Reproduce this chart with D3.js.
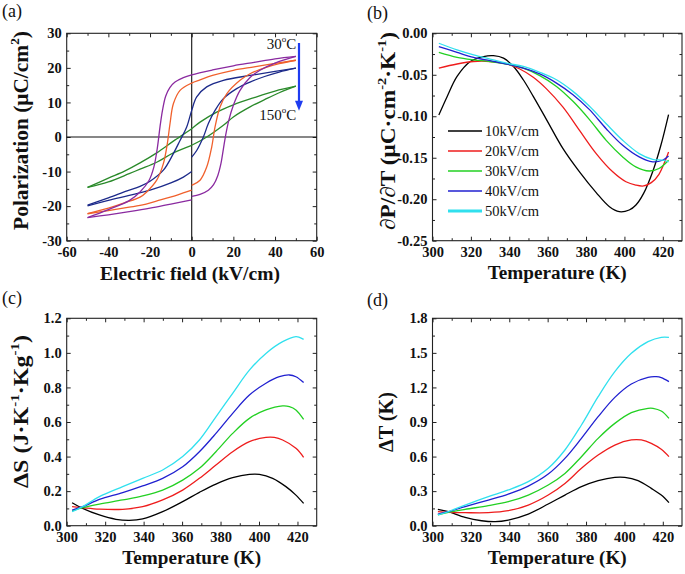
<!DOCTYPE html>
<html><head><meta charset="utf-8">
<script src="https://cdn.jsdelivr.net/npm/d3@7"></script>
<style>body{margin:0;background:#fff} svg{display:block} svg text{font-family:"Liberation Serif","DejaVu Serif",serif;}</style>
</head><body>
<svg id="c" width="685" height="574"></svg>
<script>
// ---------------- DATA ----------------
// (a) hysteresis loops, [E (kV/cm), P (uC/cm2)] ; rise from 0 -> 50, descend 50 -> -50, return -50 -> 0
const loop30_rise = [[0,-17.2],[4,-16.6],[8,-15.4],[10.5,-13.8],[12.5,-11.2],[14,-7.8],[15.2,-3.5],[16.3,0.5],[17.8,4.8],[20,9.2],[23.2,13.5],[28,17.2],[33,19.4],[40,21.4],[50,23.3]];
const loop30_desc = [[50,23.3],[40,22.6],[30,21.6],[20,20.6],[10,19.4],[0,18],[-4,17.2],[-8,15.9],[-10.5,14.3],[-12.5,11.8],[-14,7.8],[-15.2,3],[-16.5,-3.2],[-18.2,-8.8],[-20.5,-12.6],[-24.8,-15.9],[-30,-18.4],[-40,-21],[-50,-23.3]];
const loop30_ret  = [[-50,-23.3],[-40,-22.5],[-30,-21.6],[-20,-20.6],[-10,-19.4],[0,-18.2]];

const loop70_rise = [[0,-14],[4,-12.5],[7.2,-8.7],[9.6,-2.9],[11.2,2.9],[13.6,8.7],[16.8,12.5],[23.2,16.4],[28,18.3],[35,20],[42,21.2],[50,22.2]];
const loop70_desc = [[50,22.2],[40,21.3],[30,20.3],[20,19.3],[10,17.8],[4,16.5],[0,15.6],[-5.6,13.5],[-8.8,9.6],[-10.4,3.9],[-11.7,-1.9],[-13.6,-7.7],[-16.8,-12.5],[-21.6,-15.9],[-24.8,-17.4],[-32,-19],[-40,-20.6],[-50,-22.2]];
const loop70_ret  = [[-50,-22.2],[-40,-21.3],[-30,-20.3],[-24.8,-19.8],[-15,-18.2],[-7,-16.8],[0,-15.4]];

const loop110_rise = [[0,-5.8],[2.4,-3.9],[5.6,0],[8,3.9],[11.2,7.7],[15.2,11.1],[21.6,14],[28,15.9],[35,17.5],[42,18.8],[50,19.9]];
const loop110_desc = [[50,19.9],[40,19],[28,17.8],[15.2,16.4],[7.2,14.5],[2.4,11.6],[0,7.7],[-2.4,2.9],[-5.6,-1],[-8.8,-4.8],[-13.6,-9.6],[-20,-12.8],[-24.8,-14.3],[-31,-15.6],[-40,-17.6],[-50,-19.7]];
const loop110_ret  = [[-50,-19.9],[-40,-18.3],[-30,-16.9],[-20,-15.4],[-10,-13.3],[-4,-11.6],[0,-10]];

const loop150_rise = [[0,-2.4],[7.2,0],[15.2,3.4],[20,5.8],[28,8.7],[35,10.8],[42,12.8],[50,14.7]];
const loop150_desc = [[50,14.7],[40,13.3],[30,11.4],[20,9.3],[12,7.2],[4,4.3],[0,2.4],[-8.8,-1.2],[-16.8,-4.6],[-24.8,-7.5],[-32,-9.8],[-40,-11.9],[-50,-14.6]];
const loop150_ret  = [[-50,-14.6],[-40,-13],[-30,-10.6],[-24.8,-9.3],[-16.8,-7.3],[-8.8,-4.6],[0,-2.4]];

const loopColors = ["#8a2aa0","#f0602c","#1c2a8a","#2a8a2a"];

// (b) dP/dT vs T  [T (K), value]
const dPdT_10 = [[303.3,-0.0985],[307.6,-0.0764],[312.8,-0.052],[319.7,-0.034],[326.6,-0.028],[331.8,-0.027],[337,-0.030],[342.2,-0.040],[347.3,-0.056],[352.5,-0.076],[359.4,-0.104],[368,-0.139],[376.6,-0.167],[385.3,-0.192],[392.2,-0.209],[397.3,-0.215],[402.5,-0.213],[406,-0.207],[410,-0.193],[415,-0.165],[419,-0.135],[423,-0.098]];
const dPdT_20 = [[303.3,-0.042],[312.8,-0.037],[321.4,-0.034],[330,-0.034],[338.6,-0.037],[345.5,-0.043],[352.5,-0.053],[359.4,-0.067],[368,-0.089],[376.6,-0.117],[385.3,-0.145],[393.9,-0.167],[400.8,-0.179],[405.9,-0.183],[410,-0.184],[414,-0.180],[418,-0.170],[423,-0.143]];
const dPdT_30 = [[303.3,-0.023],[312.8,-0.029],[321.4,-0.032],[330,-0.034],[338.6,-0.037],[347.3,-0.042],[355.9,-0.051],[364.6,-0.064],[373.2,-0.082],[381.8,-0.104],[390.5,-0.129],[399.1,-0.149],[405.9,-0.161],[412.9,-0.166],[418,-0.163],[423,-0.153]];
const dPdT_40 = [[303.3,-0.016],[312.8,-0.023],[321.4,-0.029],[330,-0.033],[338.6,-0.037],[347.3,-0.042],[355.9,-0.049],[364.6,-0.060],[373.2,-0.074],[381.8,-0.092],[390.5,-0.115],[399.1,-0.135],[407.7,-0.149],[414.7,-0.155],[419.9,-0.153],[423,-0.148]];
const dPdT_50 = [[303.3,-0.012],[312.8,-0.020],[321.4,-0.026],[330,-0.031],[338.6,-0.036],[347.3,-0.040],[355.9,-0.047],[364.6,-0.056],[373.2,-0.070],[381.8,-0.088],[390.5,-0.109],[399.1,-0.129],[407.7,-0.145],[414.7,-0.152],[419.9,-0.153],[423,-0.155]];

// (c) entropy change
const dS_10 = [[302.8,0.133],[308.3,0.10],[317,0.062],[325.6,0.037],[332.6,0.031],[339.5,0.039],[349.9,0.081],[360.3,0.139],[369,0.193],[377.6,0.241],[386.3,0.278],[395,0.297],[400.2,0.297],[407.1,0.274],[414,0.226],[419.2,0.177],[423.2,0.129]];
const dS_20 = [[302.8,0.11],[308.3,0.104],[317,0.096],[329.1,0.095],[339.5,0.11],[349.9,0.149],[360.3,0.206],[369,0.274],[377.6,0.351],[386.3,0.428],[395,0.486],[403.6,0.511],[408,0.511],[412.3,0.496],[419.2,0.448],[423.2,0.396]];
const dS_30 = [[302.8,0.085],[308.3,0.104],[317,0.125],[329.1,0.149],[339.5,0.172],[349.9,0.206],[360.3,0.264],[369,0.332],[377.6,0.428],[386.3,0.534],[395,0.621],[403.6,0.67],[412.3,0.693],[415.8,0.689],[419.2,0.67],[423.2,0.615]];
const dS_40 = [[302.8,0.09],[308.3,0.11],[317,0.152],[329.1,0.191],[339.5,0.23],[349.9,0.274],[360.3,0.341],[369,0.428],[377.6,0.534],[386.3,0.65],[395,0.756],[403.6,0.824],[410.6,0.862],[415.8,0.872],[419.2,0.862],[423.2,0.828]];
const dS_50 = [[302.8,0.081],[308.3,0.11],[317,0.168],[329.1,0.226],[339.5,0.274],[349.9,0.322],[360.3,0.40],[369,0.496],[377.6,0.63],[386.3,0.766],[395,0.90],[403.6,0.997],[412.3,1.065],[419.2,1.094],[421,1.09],[423.2,1.078]];

// (d) temperature change
const dT_10 = [[302.8,0.142],[308.3,0.122],[317,0.072],[325.6,0.043],[332.6,0.035],[339.5,0.049],[349.9,0.101],[360.3,0.188],[369,0.266],[377.6,0.339],[386.3,0.391],[395,0.42],[400.2,0.42],[407.1,0.391],[414,0.324],[419.2,0.266],[423.2,0.20]];
const dT_20 = [[302.8,0.122],[308.3,0.116],[317,0.113],[329.1,0.113],[339.5,0.13],[349.9,0.179],[360.3,0.266],[369,0.367],[377.6,0.498],[386.3,0.613],[395,0.70],[403.6,0.744],[408.8,0.744],[414,0.715],[419.2,0.663],[423.2,0.599]];
const dT_30 = [[302.8,0.093],[308.3,0.116],[317,0.142],[329.1,0.174],[339.5,0.208],[349.9,0.266],[360.3,0.353],[369,0.454],[377.6,0.599],[386.3,0.758],[395,0.888],[403.6,0.981],[412.3,1.019],[414.9,1.019],[419.2,0.995],[423.2,0.932]];
const dT_40 = [[302.8,0.101],[308.3,0.122],[317,0.165],[329.1,0.223],[339.5,0.275],[349.9,0.344],[360.3,0.448],[369,0.584],[377.6,0.758],[386.3,0.946],[395,1.114],[403.6,1.23],[412.3,1.288],[416.6,1.293],[419.2,1.285],[423.2,1.25]];
const dT_50 = [[302.8,0.093],[308.3,0.122],[317,0.179],[329.1,0.252],[339.5,0.31],[349.9,0.382],[360.3,0.498],[369,0.657],[377.6,0.874],[386.3,1.12],[395,1.337],[403.6,1.496],[412.3,1.597],[419.2,1.635],[423.2,1.635]];

const fieldLabels = ["10kV/cm","20kV/cm","30kV/cm","40kV/cm","50kV/cm"];
const fieldColors = ["#000000","#ee1c1c","#22d022","#2020d0","#30e0ee"];

// tick values
const aXMajor = [-60,-40,-20,0,20,40,60], aXMinor = [-50,-30,-10,10,30,50];
const aYMajor = [-30,-20,-10,0,10,20,30], aYMinor = [-25,-15,-5,5,15,25];
const tXMajor = [300,320,340,360,380,400,420], tXMinor = [310,330,350,370,390,410];
const bYMajor = [0,-0.05,-0.10,-0.15,-0.20,-0.25], bYMinor = [-0.025,-0.075,-0.125,-0.175,-0.225];
const cYMajor = [0,0.2,0.4,0.6,0.8,1.0,1.2], cYMinor = [0.1,0.3,0.5,0.7,0.9,1.1];
const dYMajor = [0,0.3,0.6,0.9,1.2,1.5,1.8], dYMinor = [0.15,0.45,0.75,1.05,1.35,1.65];

// ---------------- DRAW ----------------
const svg = d3.select("#c");
const FONT = "Liberation Serif, DejaVu Serif, serif";
const fix = f => d => f(d).replace("\u2212","-");

function makePanel(o){
  const x = d3.scaleLinear().domain(o.xDom).range([o.x0,o.x1]);
  const y = d3.scaleLinear().domain(o.yDom).range([o.y1,o.y0]);
  const g = svg.append("g");
  const styleAxis = sel => {
    sel.attr("font-family",FONT);
    sel.select(".domain").remove();
    sel.selectAll("line").attr("stroke","#222").attr("stroke-width",1);
    sel.selectAll("text").attr("font-family",FONT).attr("font-weight","bold").attr("font-size","14.5px").attr("fill","#111");
  };
  const MJ=4, MN=2.5;
  g.append("g").attr("transform",`translate(0,${o.y1})`).call(d3.axisBottom(x).tickValues(o.xMajor).tickSize(-MJ).tickPadding(6).tickFormat(fix(o.xFmt))).call(styleAxis);
  g.append("g").attr("transform",`translate(0,${o.y1})`).call(d3.axisBottom(x).tickValues(o.xMinor).tickSize(-MN).tickFormat("")).call(styleAxis);
  g.append("g").attr("transform",`translate(0,${o.y0})`).call(d3.axisTop(x).tickValues(o.xMajor).tickSize(-MJ).tickFormat("")).call(styleAxis);
  g.append("g").attr("transform",`translate(0,${o.y0})`).call(d3.axisTop(x).tickValues(o.xMinor).tickSize(-MN).tickFormat("")).call(styleAxis);
  g.append("g").attr("transform",`translate(${o.x0},0)`).call(d3.axisLeft(y).tickValues(o.yMajor).tickSize(-MJ).tickPadding(5).tickFormat(fix(o.yFmt))).call(styleAxis);
  g.append("g").attr("transform",`translate(${o.x0},0)`).call(d3.axisLeft(y).tickValues(o.yMinor).tickSize(-MN).tickFormat("")).call(styleAxis);
  g.append("g").attr("transform",`translate(${o.x1},0)`).call(d3.axisRight(y).tickValues(o.yMajor).tickSize(-MJ).tickFormat("")).call(styleAxis);
  g.append("g").attr("transform",`translate(${o.x1},0)`).call(d3.axisRight(y).tickValues(o.yMinor).tickSize(-MN).tickFormat("")).call(styleAxis);
  g.append("rect").attr("x",o.x0).attr("y",o.y0).attr("width",o.x1-o.x0).attr("height",o.y1-o.y0)
    .attr("fill","none").attr("stroke","#222").attr("stroke-width",1.1);
  return {g,x,y};
}

function richText(parent, parts, size){
  const t = parent.append("text").attr("font-family",FONT).attr("font-weight","bold")
    .attr("font-size",size+"px").attr("fill","#111").attr("text-anchor","middle");
  let shifted = false;
  parts.forEach(p=>{
    const ts = t.append("tspan").text(p.t);
    if(p.sup){ ts.attr("font-size",(size*0.62)+"px").attr("dy",-size*0.42); shifted = true; }
    else if(shifted){ ts.attr("dy",size*0.42); shifted=false; }
  });
  return t;
}
function xTitle(parts, cx, base, len){
  const t = richText(svg, parts, 19);
  const w = t.node().getComputedTextLength();
  t.attr("transform",`translate(${cx},${base}) scale(${len/w},1)`);
}
function yTitle(parts, bx, cy, len){
  const t = richText(svg, parts, 21);
  const w = t.node().getComputedTextLength();
  t.attr("transform",`translate(${bx},${cy}) rotate(-90) scale(${len/w},1)`);
}
function panelLabel(s, x, y){
  svg.append("text").attr("x",x).attr("y",y).attr("font-family",FONT).attr("font-size","18px").attr("fill","#111").text(s);
}

// Panel (a)
{
  const P = makePanel({x0:66.7,x1:316.7,y0:33.3,y1:240.7,xDom:[-60,60],yDom:[-30,30],
    xMajor:aXMajor,xMinor:aXMinor,yMajor:aYMajor,yMinor:aYMinor,xFmt:d3.format("d"),yFmt:d3.format("d")});
  P.g.append("line").attr("x1",P.x(-60)).attr("x2",P.x(60)).attr("y1",P.y(0)).attr("y2",P.y(0)).attr("stroke","#111").attr("stroke-width",1.1);
  P.g.append("line").attr("x1",P.x(0)).attr("x2",P.x(0)).attr("y1",P.y(-30)).attr("y2",P.y(30)).attr("stroke","#111").attr("stroke-width",1.1);
  const line = d3.line().x(d=>P.x(d[0])).y(d=>P.y(d[1])).curve(d3.curveCatmullRom.alpha(0.5));
  const loops = [[loop30_rise,loop30_desc,loop30_ret],[loop70_rise,loop70_desc,loop70_ret],
                 [loop110_rise,loop110_desc,loop110_ret],[loop150_rise,loop150_desc,loop150_ret]];
  loops.slice().reverse().forEach((segs,ri)=>{
    const i = loops.length-1-ri;
    segs.forEach(s=>P.g.append("path").attr("d",line(s)).attr("fill","none").attr("stroke",loopColors[i]).attr("stroke-width",1.3));
  });
  // annotation arrow
  const ax = P.x(51.5);
  P.g.append("line").attr("x1",ax).attr("x2",ax).attr("y1",P.y(27.2)).attr("y2",P.y(10)).attr("stroke","#1f3cf0").attr("stroke-width",2.2);
  P.g.append("path").attr("d",`M${ax-4},${P.y(10.5)}L${ax+4},${P.y(10.5)}L${ax},${P.y(7.6)}Z`).attr("fill","#1f3cf0");
  const ann = (txt, yv) => {
    const t = P.g.append("text").attr("x",P.x(50.2)).attr("y",P.y(yv)).attr("text-anchor","end")
      .attr("font-family",FONT).attr("font-size","15px").attr("fill","#111");
    t.append("tspan").text(txt);
    t.append("tspan").text("o").attr("font-size","9px").attr("dy",-7);
    t.append("tspan").text("C").attr("dy",7);
  };
  ann("30",25.6); ann("150",4.9);
  yTitle([{t:"Polarization (\u03bcC/cm"},{t:"2",sup:true},{t:")"}], 28, 130.5, 199);
  xTitle([{t:"Electric field (kV/cm)"}], 190, 280, 180);
  panelLabel("(a)", 2, 17);
}

function tPanel(o, series, ytitle, ybx, ycy, ylen, lbl, lx, ly, legend){
  const P = makePanel(o);
  const line = d3.line().x(d=>P.x(d[0])).y(d=>P.y(d[1])).curve(d3.curveCatmullRom.alpha(0.5));
  series.forEach((s,i)=>P.g.append("path").attr("d",line(s)).attr("fill","none").attr("stroke",fieldColors[i]).attr("stroke-width",1.3));
  yTitle(ytitle, ybx, ycy, ylen);
  xTitle([{t:"Temperature (K)"}], (o.x0+o.x1)/2, o.xb, 139);
  panelLabel(lbl, lx, ly);
  if(legend){
    fieldLabels.forEach((lab,i)=>{
      const yy = 131 + i*20;
      P.g.append("line").attr("x1",448).attr("x2",482).attr("y1",yy).attr("y2",yy)
        .attr("stroke",fieldColors[i]).attr("stroke-width",i===4?3:1.3);
      P.g.append("text").attr("x",485).attr("y",yy+5).attr("font-family",FONT).attr("font-size","14.5px").attr("fill","#111").text(lab);
    });
  }
}

tPanel({x0:432.5,x1:682,y0:33.3,y1:240.7,xDom:[300,430],yDom:[-0.25,0],xMajor:tXMajor,xMinor:tXMinor,
  yMajor:bYMajor,yMinor:bYMinor,xFmt:d3.format("d"),yFmt:d3.format(".2f"),xb:279},
  [dPdT_10,dPdT_20,dPdT_30,dPdT_40,dPdT_50],
  [{t:"\u2202P/\u2202T (\u03bcC\u00b7cm"},{t:"-2",sup:true},{t:"\u00b7K"},{t:"-1",sup:true},{t:")"}], 395, 131, 198,
  "(b)", 367, 19, true);

tPanel({x0:66.7,x1:316.7,y0:318.3,y1:525.7,xDom:[300,430],yDom:[0,1.2],xMajor:tXMajor,xMinor:tXMinor,
  yMajor:cYMajor,yMinor:cYMinor,xFmt:d3.format("d"),yFmt:d3.format(".1f"),xb:564},
  [dS_10,dS_20,dS_30,dS_40,dS_50],
  [{t:"\u0394S (J\u00b7K"},{t:"-1",sup:true},{t:"\u00b7Kg"},{t:"-1",sup:true},{t:")"}], 28, 411.5, 153,
  "(c)", 2, 304, false);

tPanel({x0:432.5,x1:682,y0:318.3,y1:525.7,xDom:[300,430],yDom:[0,1.8],xMajor:tXMajor,xMinor:tXMinor,
  yMajor:dYMajor,yMinor:dYMinor,xFmt:d3.format("d"),yFmt:d3.format(".1f"),xb:564},
  [dT_10,dT_20,dT_30,dT_40,dT_50],
  [{t:"\u0394T (K)"}], 393, 422, 60,
  "(d)", 367, 306, false);
</script>
</body></html>
